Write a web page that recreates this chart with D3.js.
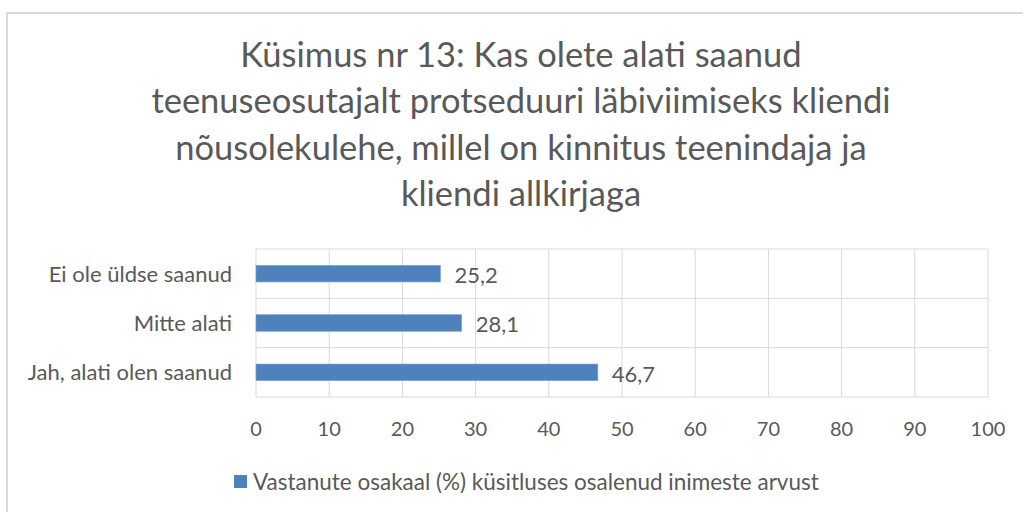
<!DOCTYPE html>
<html><head><meta charset="utf-8">
<script src="https://cdn.jsdelivr.net/npm/d3@7"></script>
<style>body{margin:0;background:#fff}svg{display:block}text{font-family:Lato,"Open Sans",sans-serif;fill:#595959}</style>
</head><body>
<svg id="c" width="1023" height="512"></svg>
<script>
const titleLines = ["Küsimus nr 13: Kas olete alati saanud","teenuseosutajalt protseduuri läbiviimiseks kliendi","nõusolekulehe, millel on kinnitus teenindaja ja","kliendi allkirjaga"];
const categories = ["Ei ole üldse saanud","Mitte alati","Jah, alati olen saanud"];
const values = [25.2, 28.1, 46.7];
const ticks = [0,10,20,30,40,50,60,70,80,90,100];
const seriesName = "Vastanute osakaal (%) küsitluses osalenud inimeste arvust";

const svg = d3.select("#c");
const grid = "#d9d9d9", barColor = "#4f81bd";
svg.append("rect").attr("x",7).attr("y",13).attr("width",1030).attr("height",520)
  .attr("fill","#fff").attr("stroke",grid).attr("stroke-width",2);

const m = {l:256, r:988, t:249, b:397};
const x = d3.scaleLinear().domain([0,100]).range([m.l, m.r]);
const y = d3.scaleBand().domain(categories).range([m.t, m.b]).paddingInner(0).paddingOuter(0);

// title
svg.append("g").selectAll("text").data(titleLines).join("text")
  .attr("x", 521).attr("y",(d,i)=>67+i*46.3).attr("text-anchor","middle")
  .style("font-size","34.5px").text(d=>d);

// gridlines
const g = svg.append("g");
g.selectAll("line.v").data(ticks).join("line").attr("class","v")
  .attr("x1",d=>x(d)).attr("x2",d=>x(d)).attr("y1",m.t).attr("y2",m.b)
  .attr("stroke",grid).attr("stroke-width",1);
const hb = categories.map(c=>y(c)).concat([m.b]);
g.selectAll("line.h").data(hb).join("line").attr("class","h")
  .attr("x1",m.l).attr("x2",m.r).attr("y1",d=>d).attr("y2",d=>d)
  .attr("stroke",grid).attr("stroke-width",1);

// bars
const bh = 16.6;
svg.append("g").selectAll("rect").data(values).join("rect")
  .attr("x",x(0)).attr("y",(d,i)=>y(categories[i])+y.bandwidth()/2-bh/2)
  .attr("width",d=>x(d)-x(0)).attr("height",bh).attr("fill",barColor)
  .attr("stroke","#7da2d0").attr("stroke-width",0.6);

// data labels
svg.append("g").selectAll("text").data(values).join("text")
  .attr("x",d=>x(d)+14).attr("y",(d,i)=>y(categories[i])+y.bandwidth()/2)
  .attr("dy","0.42em").style("font-size","22px")
  .text(d=>d.toFixed(1).replace(".",","));

// category axis labels
svg.append("g").selectAll("text").data(categories).join("text")
  .attr("x",232).attr("y",d=>y(d)+y.bandwidth()/2).attr("dy","0.36em")
  .attr("text-anchor","end").style("font-size","22px").text(d=>d);

// x axis tick labels
svg.append("g").selectAll("text").data(ticks).join("text")
  .attr("x",d=>x(d)).attr("y",435.5).attr("text-anchor","middle")
  .style("font-size","20px").text(d=>d);

// legend
svg.append("rect").attr("x",234).attr("y",475).attr("width",13).attr("height",13).attr("fill",barColor);
svg.append("text").attr("x",253).attr("y",490).style("font-size","22.5px").text(seriesName);
</script>
</body></html>
